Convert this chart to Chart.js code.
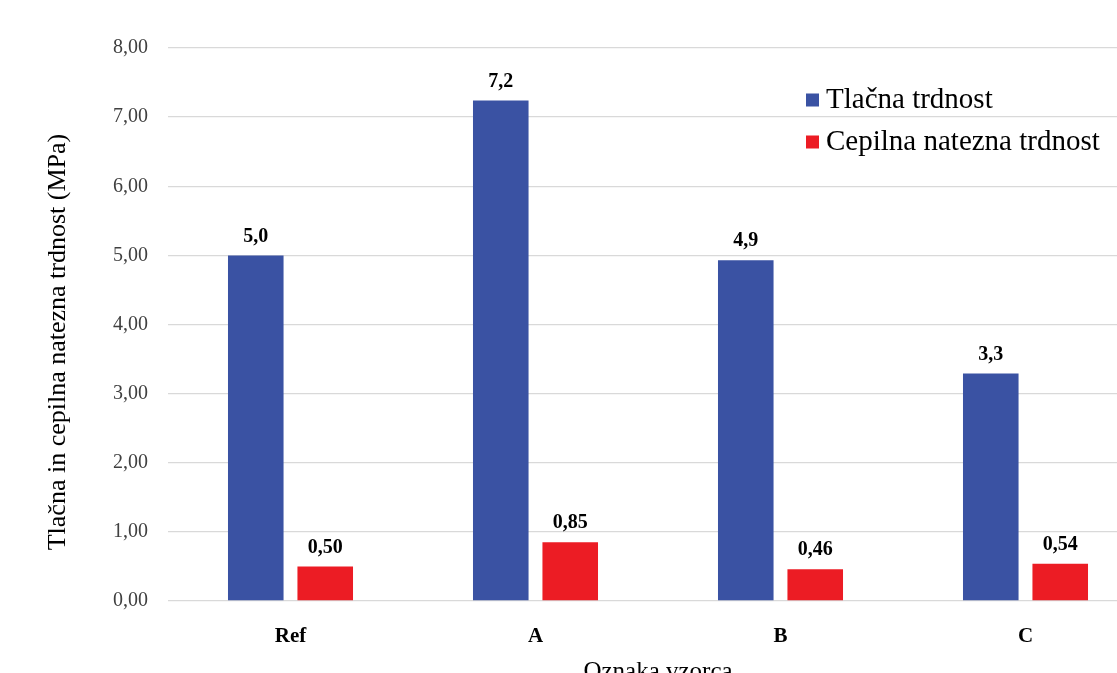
<!DOCTYPE html>
<html>
<head>
<meta charset="utf-8">
<script src="https://cdn.jsdelivr.net/npm/chart.js@4.4.1/dist/chart.umd.min.js"></script>
<style>
  html, body { margin: 0; padding: 0; background: #ffffff; overflow: hidden; }
  #wrap { position: relative; width: 1117px; height: 673px; overflow: hidden; }
  #box { position: absolute; left: 0; top: 0; width: 1150px; height: 692px; }
</style>
</head>
<body>
<div id="wrap"><div id="box"><canvas id="c"></canvas></div></div>
<script>
// Sample designations and measured strengths (MPa)
const categories = ['Ref', 'A', 'B', 'C'];
const compressive = [5.0, 7.24, 4.93, 3.29];
const splitTensile = [0.50, 0.85, 0.46, 0.54];
const seriesNames = ['Tlačna trdnost', 'Cepilna natezna trdnost'];
const seriesDecimals = [1, 2];
const yTicks = [0, 1, 2, 3, 4, 5, 6, 7, 8];
const yTitle = 'Tlačna in cepilna natezna trdnost (MPa)';
const xTitle = 'Oznaka vzorca';

const SERIF = "'Liberation Serif', 'Times New Roman', serif";
const BLUE = '#3A52A3';
const RED = '#EC1C24';

const fmt = (v, d) => v.toFixed(d).replace('.', ',');

// Value labels above each bar
const valueLabels = {
  id: 'valueLabels',
  afterDatasetsDraw(chart) {
    const ctx = chart.ctx;
    ctx.save();
    ctx.font = 'bold 20px ' + SERIF;
    ctx.fillStyle = '#000';
    ctx.textAlign = 'center';
    ctx.textBaseline = 'middle';
    chart.data.datasets.forEach((ds, i) => {
      const meta = chart.getDatasetMeta(i);
      meta.data.forEach((el, j) => {
        ctx.fillText(fmt(ds.data[j], seriesDecimals[i]), el.x, el.y - 19);
      });
    });
    ctx.restore();
  }
};

// Legend drawn inside the plot, top right
const insideLegend = {
  id: 'insideLegend',
  afterDraw(chart) {
    const ctx = chart.ctx;
    ctx.save();
    ctx.font = '29px ' + SERIF;
    ctx.textBaseline = 'middle';
    ctx.textAlign = 'left';
    chart.data.datasets.forEach((ds, i) => {
      const cy = 100 + i * 42;
      ctx.fillStyle = ds.backgroundColor;
      ctx.fillRect(806, cy - 6.5, 13, 13);
      ctx.fillStyle = '#000';
      ctx.fillText(ds.label, 826, cy);
    });
    ctx.restore();
  }
};

// Vertical axis title, rotated, left of the tick labels
const sideTitle = {
  id: 'sideTitle',
  afterDraw(chart) {
    const ctx = chart.ctx;
    ctx.save();
    ctx.translate(58, 342);
    ctx.rotate(-Math.PI / 2);
    ctx.font = '26px ' + SERIF;
    ctx.fillStyle = '#000';
    ctx.textAlign = 'center';
    ctx.textBaseline = 'middle';
    ctx.fillText(yTitle, 0, 0);
    ctx.restore();
  }
};

new Chart(document.getElementById('c'), {
  type: 'bar',
  data: {
    labels: categories,
    datasets: [
      { label: seriesNames[0], data: compressive, backgroundColor: BLUE,
        barPercentage: 0.8, categoryPercentage: 0.567 },
      { label: seriesNames[1], data: splitTensile, backgroundColor: RED,
        barPercentage: 0.8, categoryPercentage: 0.567 }
    ]
  },
  options: {
    responsive: true,
    maintainAspectRatio: false,
    animation: false,
    devicePixelRatio: 1,
    layout: { padding: { top: 48, right: 2, left: 0, bottom: 0 } },
    plugins: {
      legend: { display: false },
      tooltip: { enabled: false }
    },
    scales: {
      x: {
        grid: { display: false },
        border: { display: false },
        ticks: { color: '#000', font: { family: SERIF, size: 21, weight: 'bold' }, padding: 15 },
        title: {
          display: true, text: xTitle, color: '#000',
          font: { family: SERIF, size: 25 }, padding: { top: 0, bottom: 5 }
        },
        afterFit(scale) { scale.height = 91; }
      },
      y: {
        min: 0, max: 8,
        afterBuildTicks(scale) { scale.ticks = yTicks.map(v => ({ value: v })); },
        grid: { color: '#d9d9d9', lineWidth: 1.3, drawTicks: false },
        border: { display: false },
        ticks: {
          color: '#404040', font: { family: SERIF, size: 20 }, padding: 20,
          callback: (v) => fmt(v, 2)
        },
        title: { display: false },
        afterFit(scale) { scale.width = 168; }
      }
    }
  },
  plugins: [valueLabels, insideLegend, sideTitle]
});
</script>
</body>
</html>
